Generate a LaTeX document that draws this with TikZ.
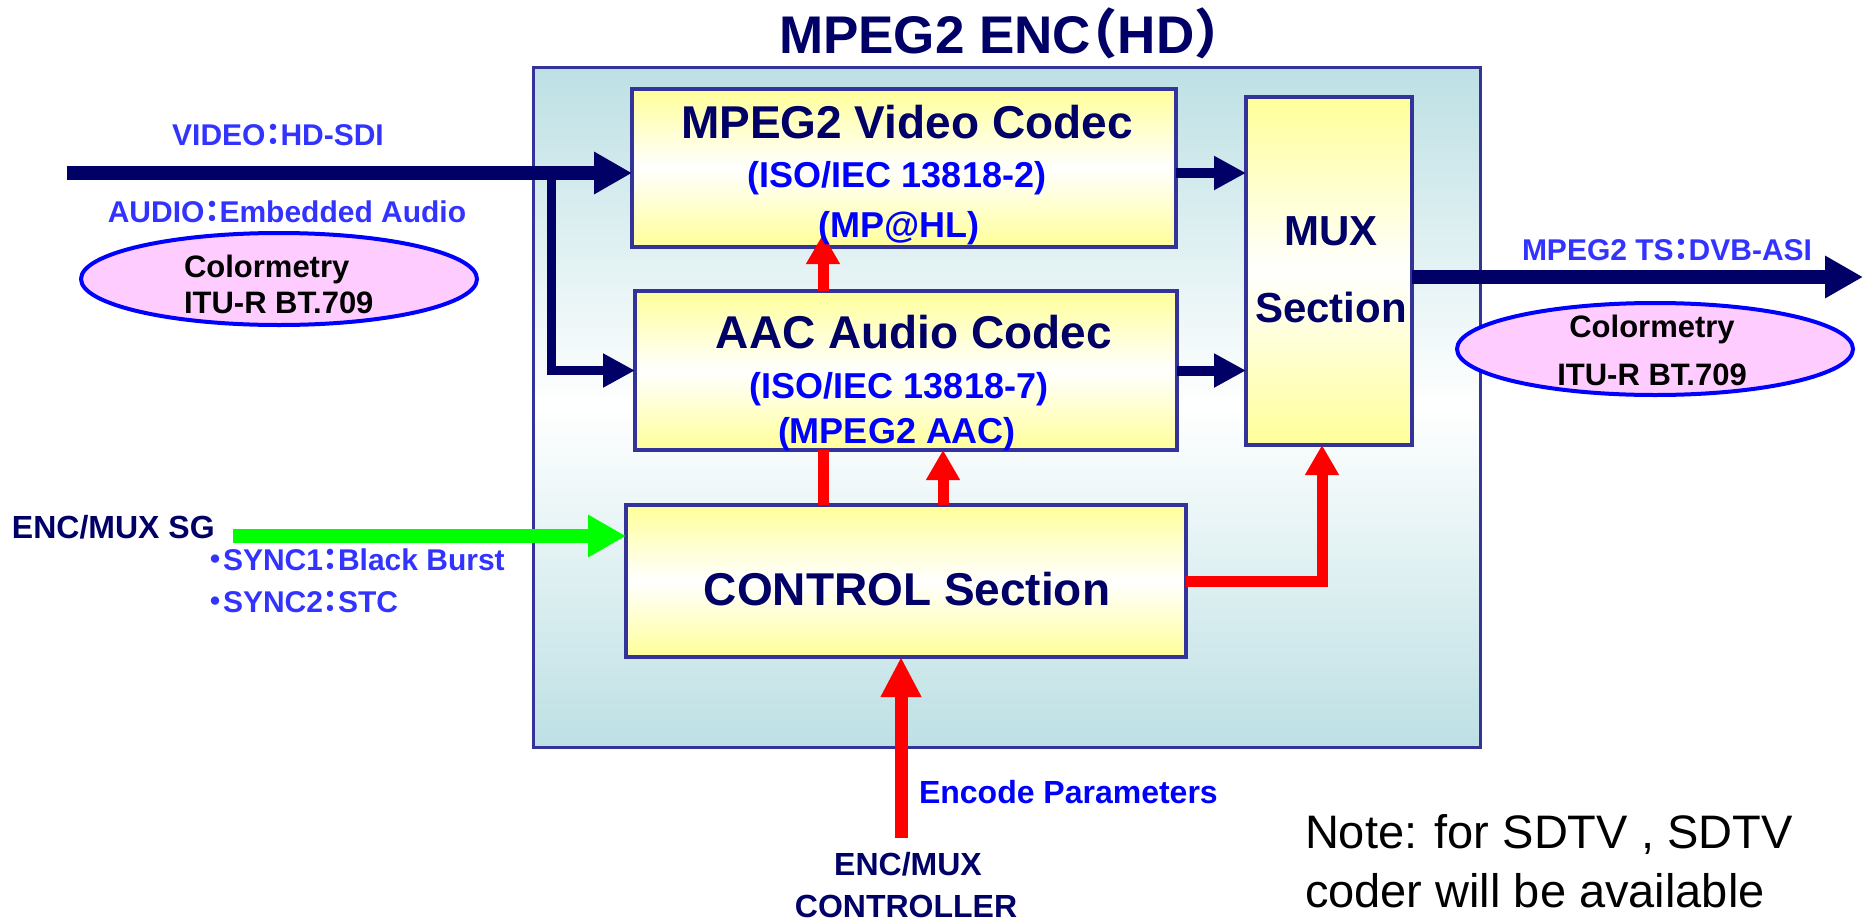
\documentclass[tikz,border=0pt]{standalone}
\usepackage{fontspec}
\setmainfont{Liberation Sans}
\newfontfamily\cjkfont[RawFeature=+halt]{Noto Sans CJK JP}
\usetikzlibrary{arrows.meta,shapes.geometric}

\definecolor{encnavy}{RGB}{0,0,102}
\definecolor{lblblue}{RGB}{51,51,255}
\definecolor{boxline}{RGB}{51,51,153}
\definecolor{cyanbg}{RGB}{189,224,228}
\definecolor{boxyel}{RGB}{255,255,153}
\definecolor{ellpink}{RGB}{255,204,255}

\newcommand{\fwc}{{\cjkfont ：}}
\newcommand{\fwdot}{{\cjkfont ・}}
\newcommand{\fsz}[1]{\fontsize{#1}{#1}\selectfont}

\begin{document}
\begin{tikzpicture}[x=1pt,y=-1pt,
  every node/.style={inner sep=0pt, outer sep=0pt},
  encbox/.style={draw=boxline, line width=3pt, top color=cyanbg, bottom color=cyanbg, middle color=white},
  unitbox/.style={draw=boxline, line width=4pt, top color=boxyel, bottom color=boxyel, middle color=white},
  colorimetry/.style={ellipse, draw=blue, line width=4pt, fill=ellpink, minimum width=396pt, minimum height=92pt},
  unittitle/.style={anchor=base, text=encnavy, font=\bfseries\fsz{46}},
  unitsub/.style={anchor=base, text=blue, font=\bfseries\fsz{36}},
  sigtext/.style={anchor=base, text=lblblue, font=\bfseries\fsz{30}},
  coltext/.style={anchor=base, text=black, font=\bfseries\fsz{31}},
  navyarrow/.style={encnavy, line width=10pt, -{Triangle[length=32pt,width=32pt]}},
  bigarrow/.style={line width=14pt, -{Triangle[length=38pt,width=40pt]}},
  redarrow/.style={red, line width=11pt, -{Triangle[length=30pt,width=32pt]}},
]
  \useasboundingbox (0,0) rectangle (1865,921);

  % encoder frame and units
  \node[encbox, minimum width=947pt, minimum height=680pt] (enc) at (1006.5,407) {};
  \node[unitbox, minimum width=544pt, minimum height=158pt] (vid) at (904,168) {};
  \node[unitbox, minimum width=542pt, minimum height=159pt] (aac) at (906,370.5) {};
  \node[unitbox, minimum width=560pt, minimum height=152pt] (ctrl) at (906,581) {};
  \node[unitbox, minimum width=166pt, minimum height=348pt] (mux) at (1329,271) {};
  \node[colorimetry] (lcol) at (279,279) {};
  \node[colorimetry] (rcol) at (1655,349) {};

  % signal paths
  \coordinate (vidin) at (67,173);
  \coordinate (split) at (551,173);
  \coordinate (tsout) at (1863,277);
  \coordinate (sgin) at (233,536);
  \coordinate (redA) at (823,0);
  \coordinate (redB) at (943,0);
  \coordinate (ctlin) at (901,838);
  \draw[bigarrow, encnavy] (vidin) -- (vidin -| vid.west);
  \draw[navyarrow, line width=9pt] (split) |- (aac.west);
  \draw[navyarrow] (vidin -| vid.east) -- (vidin -| mux.west);
  \draw[navyarrow] (aac.east) -- (aac.east -| mux.west);
  \draw[bigarrow, encnavy] (tsout -| mux.east) -- (tsout);
  \draw[bigarrow, green] (sgin) -- (sgin -| ctrl.west);
  \draw[redarrow] (aac.north -| redA) -- ++(0,-57);
  \draw[red, line width=11pt] (ctrl.north -| redA) -- (aac.south -| redA);
  \draw[redarrow] (ctrl.north -| redB) -- (aac.south -| redB);
  \draw[redarrow] (ctrl.east) -| ([xshift=-7pt]mux.south);
  \draw[redarrow, line width=13pt, -{Triangle[length=40pt,width=38pt]}] (ctlin) -- (ctlin |- ctrl.south);

  % texts
  \node[anchor=base, text=encnavy, font=\bfseries\fsz{53}] (title) at (1000,53) {MPEG2 ENC{\cjkfont （}HD{\cjkfont ）}};
  \node[unittitle] (vidt) at (907,138) {MPEG2 Video Codec};
  \node[unitsub] (vids1) at (897,187) {(ISO/IEC 13818-2)};
  \node[unitsub] (vids2) at (899,237) {(MP@HL)};
  \node[unittitle] (aact) at (914,348) {AAC Audio Codec};
  \node[unitsub] (aacs1) at (899,398) {(ISO/IEC 13818-7)};
  \node[unitsub] (aacs2) at (897,443) {(MPEG2 AAC)};
  \node[unittitle] (ctrlt) at (907,605) {CONTROL Section};
  \node[unittitle, font=\bfseries\fsz{42}] (muxt1) at (1331,245) {MUX};
  \node[unittitle, font=\bfseries\fsz{42}] (muxt2) at (1331,322) {Section};

  \node[sigtext] (vidlbl) at (278,145) {VIDEO\fwc HD-SDI};
  \node[sigtext] (audlbl) at (287,222) {AUDIO\fwc Embedded Audio};
  \node[sigtext] (tslbl) at (1667,260) {MPEG2 TS\fwc DVB-ASI};
  \node[sigtext, anchor=base west] (sync1) at (208,570) {\fwdot SYNC1\fwc Black Burst};
  \node[sigtext, anchor=base west] (sync2) at (208,612) {\fwdot SYNC2\fwc STC};
  \node[anchor=base west, text=encnavy, font=\bfseries\fsz{32}] (sglbl) at (12,538) {ENC/MUX SG};
  \node[anchor=base west, text=blue, font=\bfseries\fsz{32}] (parlbl) at (919,803) {Encode Parameters};
  \node[anchor=base, text=encnavy, font=\bfseries\fsz{32}] (ctlr1) at (908,875) {ENC/MUX};
  \node[anchor=base, text=encnavy, font=\bfseries\fsz{32}] (ctlr2) at (906,917) {CONTROLLER};

  \node[coltext, anchor=base west] (lcol1) at (184,277) {Colormetry};
  \node[coltext, anchor=base west] (lcol2) at (184,313) {ITU-R BT.709};
  \node[coltext] (rcol1) at (1652,337) {Colormetry};
  \node[coltext] (rcol2) at (1652,385) {ITU-R BT.709};

  \node[anchor=base west, font=\fsz{47}] (note1) at (1305,848) {Note: for SDTV , SDTV};
  \node[anchor=base west, font=\fsz{47}] (note2) at (1305,907) {coder will be available};
\end{tikzpicture}
\end{document}
